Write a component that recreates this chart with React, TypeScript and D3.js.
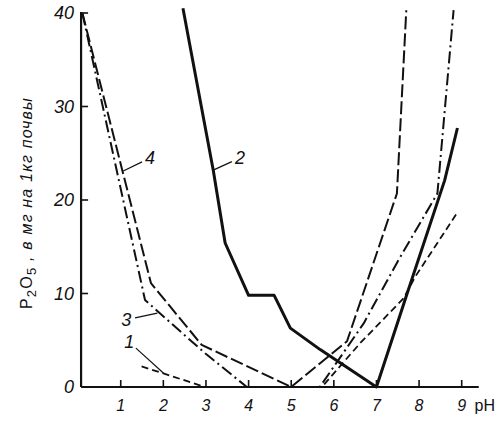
import * as d3 from "d3";

// pH values (x) and P2O5 mg per kg soil (y)
const curve1: [number, number][] = [
  [1.49, 2.2], [2.0, 1.45], [2.98, 0], [5.72, 0], [6.62, 4.7], [7.64, 9.5], [7.91, 11.8], [8.89, 18.6],
];
const curve2: [number, number][] = [
  [2.46, 40.5], [3.17, 23.2], [3.45, 15.4], [4.0, 9.8], [4.6, 9.8], [4.98, 6.3], [5.68, 4.0],
  [7.0, 0], [7.72, 10.0], [8.6, 22.1], [8.9, 27.7],
];
const curve3: [number, number][] = [
  [0.1, 40], [1.57, 9.3], [2.98, 3.6], [3.96, 0], [5.67, 0], [6.7, 6.8], [7.52, 13.6], [8.43, 20.7], [8.81, 40.3],
];
const curve4: [number, number][] = [
  [0.1, 40], [1.71, 11.1], [2.9, 4.5], [5.0, 0], [6.31, 4.9], [7.48, 20.7], [7.7, 40.3],
];

const xTicks = [1, 2, 3, 4, 5, 6, 7, 8, 9];
const yTicks = [0, 10, 20, 30, 40];

// curve labels: text, point on the curve, text anchor (data units)
const labels = [
  { text: "1", at: [2.0, 1.5], txt: [1.2, 4.8] },
  { text: "2", at: [3.17, 23.2], txt: [3.8, 24.5] },
  { text: "3", at: [1.86, 7.9], txt: [1.13, 7.2] },
  { text: "4", at: [1.06, 23.1], txt: [1.69, 24.5] },
];

const W = 500;
const H = 435;

const x = d3.scaleLinear().domain([0, 9]).range([78.1, 461.7]);
const y = d3.scaleLinear().domain([0, 40]).range([387, 13]);

const xStart = 0.07;
const xEnd = 9.4;
const yEnd = 40.1;

const line = d3
  .line<[number, number]>()
  .x((d) => x(d[0]))
  .y((d) => y(d[1]));

const tickFont = "'Liberation Sans', sans-serif";

export default function App() {
  const x0 = x(xStart);
  const y0 = y(0);
  return (
    <svg
      width={W}
      height={H}
      style={{ position: "absolute", left: 0, top: 0, background: "#fff" }}
    >
      {/* curves */}
      <g fill="none" stroke="#111" strokeLinejoin="round">
        <path d={line(curve1) || ""} strokeWidth={1.8} strokeDasharray="7,4" />
        <path d={line(curve3) || ""} strokeWidth={2} strokeDasharray="12,4,2,4" />
        <path d={line(curve4) || ""} strokeWidth={2} strokeDasharray="13,4" />
        <path d={line(curve2) || ""} strokeWidth={3} />
      </g>

      {/* axes */}
      <g stroke="#111" strokeWidth={2.2}>
        <line x1={x0} x2={x0} y1={y0} y2={y(yEnd)} />
        <line x1={x0} x2={x(xEnd)} y1={y0} y2={y0} />
      </g>
      <g stroke="#111" strokeWidth={1.6}>
        {yTicks.filter((t) => t > 0).map((t) => (
          <line key={t} x1={x0} x2={x0 + 7} y1={y(t)} y2={y(t)} />
        ))}
        {xTicks.map((t) => (
          <line key={t} x1={x(t)} x2={x(t)} y1={y0} y2={y0 - 7} />
        ))}
      </g>
      <g fontFamily={tickFont} fontStyle="italic" fontSize={18} fill="#111">
        {yTicks.map((t) => (
          <text key={t} x={x0 - 7} y={y(t)} dy="0.35em" textAnchor="end">
            {t}
          </text>
        ))}
      </g>
      <g fontFamily={tickFont} fontStyle="italic" fontSize={16} fill="#111">
        {xTicks.map((t) => (
          <text key={t} x={x(t)} y={y0 + 18} dy="0.35em" textAnchor="middle">
            {t}
          </text>
        ))}
      </g>
      <text
        x={x(9.3)}
        y={y0 + 18}
        dy="0.35em"
        fontFamily="'Liberation Sans', sans-serif"
        fontSize={16}
        fill="#111"
      >
        pH
      </text>

      {/* curve labels */}
      <g fontFamily={tickFont} fontStyle="italic" fontSize={18} fill="#111">
        {labels.map((l) => (
          <text key={l.text} x={x(l.txt[0])} y={y(l.txt[1])} dy="0.35em" textAnchor="middle">
            {l.text}
          </text>
        ))}
      </g>
      <g stroke="#111" strokeWidth={1.2}>
        {labels.map((l) => {
          const tx = x(l.txt[0]);
          const ty = y(l.txt[1]);
          const px = x(l.at[0]);
          const py = y(l.at[1]);
          const dx = px - tx;
          const dyy = py - ty;
          const len = Math.hypot(dx, dyy);
          const s = 9 / len;
          return (
            <line key={l.text} x1={tx + dx * s} y1={ty + dyy * s} x2={px} y2={py} />
          );
        })}
      </g>

      {/* y axis title */}
      <text
        transform={`translate(32, ${(y(0) + y(40)) / 2 + 3}) rotate(-90)`}
        textAnchor="middle"
        fontFamily="'Liberation Sans', sans-serif"
        fontSize={16}
        letterSpacing={1.2}
        fill="#111"
      >
        <tspan>P</tspan>
        <tspan fontSize={13} dy="4">2</tspan>
        <tspan dy="-4">O</tspan>
        <tspan fontSize={13} dy="4">5</tspan>
        <tspan dy="-4" fontStyle="italic">
          {" , в мг на 1кг почвы"}
        </tspan>
      </text>
    </svg>
  );
}
